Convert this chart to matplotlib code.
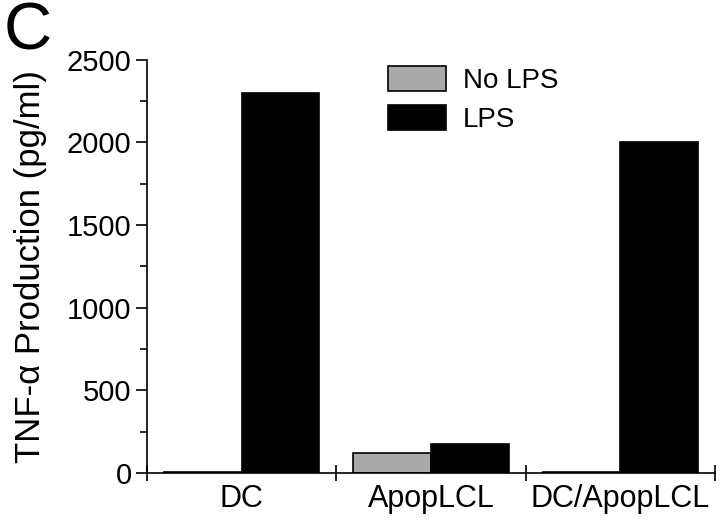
import matplotlib
matplotlib.use("Agg")
import matplotlib.pyplot as plt
import numpy as np

categories = ["DC", "ApopLCL", "DC/ApopLCL"]
no_lps = [5, 121, 5]
lps = [2300, 176, 2000]
series_labels = ["No LPS", "LPS"]
y_ticks = [0, 500, 1000, 1500, 2000, 2500]

plt.rcParams['font.family'] = ['Liberation Sans', 'DejaVu Sans']

fig = plt.figure(figsize=(7.2, 5.2), dpi=100)
ax = fig.add_axes([0.204, 0.0904, 0.789, 0.7946])

x = np.arange(len(categories))
w = 0.41
ax.bar(x - w/2, no_lps, w, color='#a9a9a9', edgecolor='black', linewidth=1.2, label=series_labels[0])
ax.bar(x + w/2, lps, w, color='black', edgecolor='black', linewidth=1.2, label=series_labels[1])

ax.set_xlim(-0.5, len(categories) - 0.5)
ax.set_ylim(0, 2500)
ax.set_yticks(y_ticks)
ax.set_yticks(np.arange(250, 2500, 500), minor=True)
ax.tick_params(axis='y', which='major', direction='out', length=8, width=1.2, labelsize=21, pad=3)
ax.tick_params(axis='y', which='minor', direction='out', length=5, width=1.2)

ax.set_xticks(np.arange(-0.5, len(categories), 1.0))
ax.set_xticklabels([])
ax.set_xticks(x, minor=True)
ax.set_xticklabels(categories, minor=True)
ax.tick_params(axis='x', which='major', direction='inout', length=12, width=1.2)
ax.tick_params(axis='x', which='minor', length=0, labelsize=22, pad=8)

for s in ['top', 'right']:
    ax.spines[s].set_visible(False)
for s in ['left', 'bottom']:
    ax.spines[s].set_linewidth(1.2)

ax.set_ylabel("TNF-α Production (pg/ml)", fontsize=25, labelpad=14)

ax.legend(loc='upper left', bbox_to_anchor=(0.38, 1.045), frameon=False, fontsize=20,
          handlelength=2.1, handleheight=1.0, handletextpad=0.6, labelspacing=0.4)

fig.text(0.005, 0.998, "C", fontsize=48, va='top', ha='left')

fig.savefig("out.png", dpi=100)
